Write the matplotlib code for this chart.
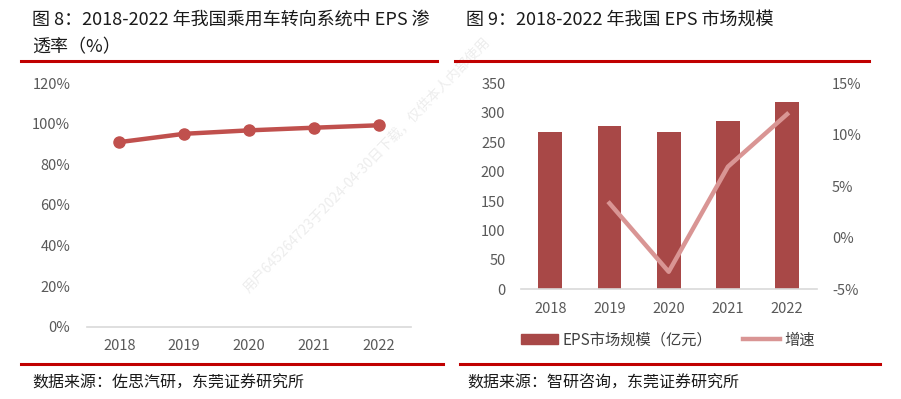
import matplotlib
matplotlib.use("Agg")
import matplotlib.pyplot as plt
from matplotlib.lines import Line2D
from matplotlib.patches import Patch
from matplotlib.ticker import FuncFormatter

plt.rcParams['font.family'] = ['Noto Sans CJK SC', 'DejaVu Sans']

# data
years = ["2018", "2019", "2020", "2021", "2022"]
eps_share = [0.91, 0.951, 0.968, 0.981, 0.993]          # EPS penetration
market_size = [268, 277, 267, 286, 319]                # 亿元
growth_years = ["2019", "2020", "2021", "2022"]
growth = [3.35, -3.3, 6.9, 12.0]                       # %

left_ticks = [0, 0.2, 0.4, 0.6, 0.8, 1.0, 1.2]
bar_ticks = [0, 50, 100, 150, 200, 250, 300, 350]
growth_ticks = [-5, 0, 5, 10, 15]

# colors
red_rule = "#C00000"
line_red = "#C0504D"
bar_red = "#A84847"
pink = "#D99594"
tick_grey = "#595959"
axis_grey = "#D9D9D9"

W, H = 901, 399
fig = plt.figure(figsize=(W / 100, H / 100), dpi=100)


def px(x, y):
    return x / W, 1 - y / H


def hline(x0, x1, y, color=red_rule, lw=2.2):
    a, b = px(x0, y)
    c, _ = px(x1, y)
    fig.add_artist(Line2D([a, c], [b, b], color=color, lw=lw, transform=fig.transFigure))


# titles
fig.text(*px(32, 20), "图 8：2018-2022 年我国乘用车转向系统中 EPS 渗", fontsize=13,
         fontweight="medium", color="#1a1a1a", va="center", ha="left")
fig.text(*px(32, 47), "透率（%）", fontsize=13, fontweight="medium", color="#1a1a1a",
         va="center", ha="left")
fig.text(*px(466, 20), "图 9：2018-2022 年我国 EPS 市场规模", fontsize=13,
         fontweight="medium", color="#1a1a1a", va="center", ha="left")

hline(21, 437, 61)
hline(455, 869, 61)
hline(21, 443, 364)
hline(460, 880, 364)

fig.text(*px(32, 383), "数据来源：佐思汽研，东莞证券研究所", fontsize=11.5, color="#1a1a1a",
         va="center", ha="left")
fig.text(*px(467, 383), "数据来源：智研咨询，东莞证券研究所", fontsize=11.5, color="#1a1a1a",
         va="center", ha="left")

# ---- left chart: penetration line
l0, b0 = px(87, 326.7)
l1, b1 = px(411, 83.3)
ax1 = fig.add_axes([l0, b0, l1 - l0, b1 - b0])
x = range(len(years))
ax1.plot(x, eps_share, color=line_red, lw=3.2, marker="o", markersize=8, zorder=3)
ax1.set_xlim(-0.5, len(years) - 0.5)
ax1.set_ylim(0, 1.2)
ax1.set_yticks(left_ticks)
ax1.yaxis.set_major_formatter(FuncFormatter(lambda v, p: f"{v * 100:.0f}%"))
ax1.set_xticks(list(x))
ax1.set_xticklabels(years)
for s in ["top", "right", "left"]:
    ax1.spines[s].set_visible(False)
ax1.spines["bottom"].set_color(axis_grey)
ax1.spines["bottom"].set_linewidth(1.2)
ax1.tick_params(length=0, labelsize=10.5, labelcolor=tick_grey)
ax1.tick_params(axis="y", pad=12)
ax1.tick_params(axis="x", pad=9)
ax1.patch.set_alpha(0)

# ---- right chart: market size bars + growth line
r0, rb0 = px(520.7, 289.3)
r1, rb1 = px(816.7, 83.3)
ax2 = fig.add_axes([r0, rb0, r1 - r0, rb1 - rb0])
ax2.bar(years, market_size, width=0.4, color=bar_red, zorder=2)
ax2.set_xlim(-0.5, len(years) - 0.5)
ax2.set_ylim(0, 350)
ax2.set_yticks(bar_ticks)
for s in ["top", "right", "left"]:
    ax2.spines[s].set_visible(False)
ax2.spines["bottom"].set_color(axis_grey)
ax2.spines["bottom"].set_linewidth(1.2)
ax2.tick_params(length=0, labelsize=10.5, labelcolor=tick_grey)
ax2.tick_params(axis="y", pad=11)
ax2.tick_params(axis="x", pad=9)
ax2.patch.set_alpha(0)

ax3 = ax2.twinx()
ax3.plot(growth_years, growth, color=pink, lw=3.2, zorder=3)
ax3.set_ylim(-5, 15)
ax3.set_yticks(growth_ticks)
ax3.yaxis.set_major_formatter(FuncFormatter(lambda v, p: f"{v:.0f}%"))
for s in ["top", "right", "left", "bottom"]:
    ax3.spines[s].set_visible(False)
ax3.tick_params(length=0, labelsize=10.5, labelcolor=tick_grey, pad=11)

handles = [Patch(color=bar_red, label="EPS市场规模（亿元）"),
           Line2D([], [], color=pink, lw=3.2, label="增速")]
fig.legend(handles=handles, loc="center", bbox_to_anchor=px(668, 340), ncol=2,
           frameon=False, fontsize=11, handlelength=2.4, handleheight=0.6,
           columnspacing=2.0, handletextpad=0.3, labelcolor="#404040")

# watermark
fig.text(*px(245, 290), "用户645264723于2024-04-30日下载，仅供本人内部使用",
         rotation=46, rotation_mode="anchor", ha="left", va="center",
         fontsize=10, color="#EDEDED", zorder=0)

fig.savefig("out.png", dpi=100)
